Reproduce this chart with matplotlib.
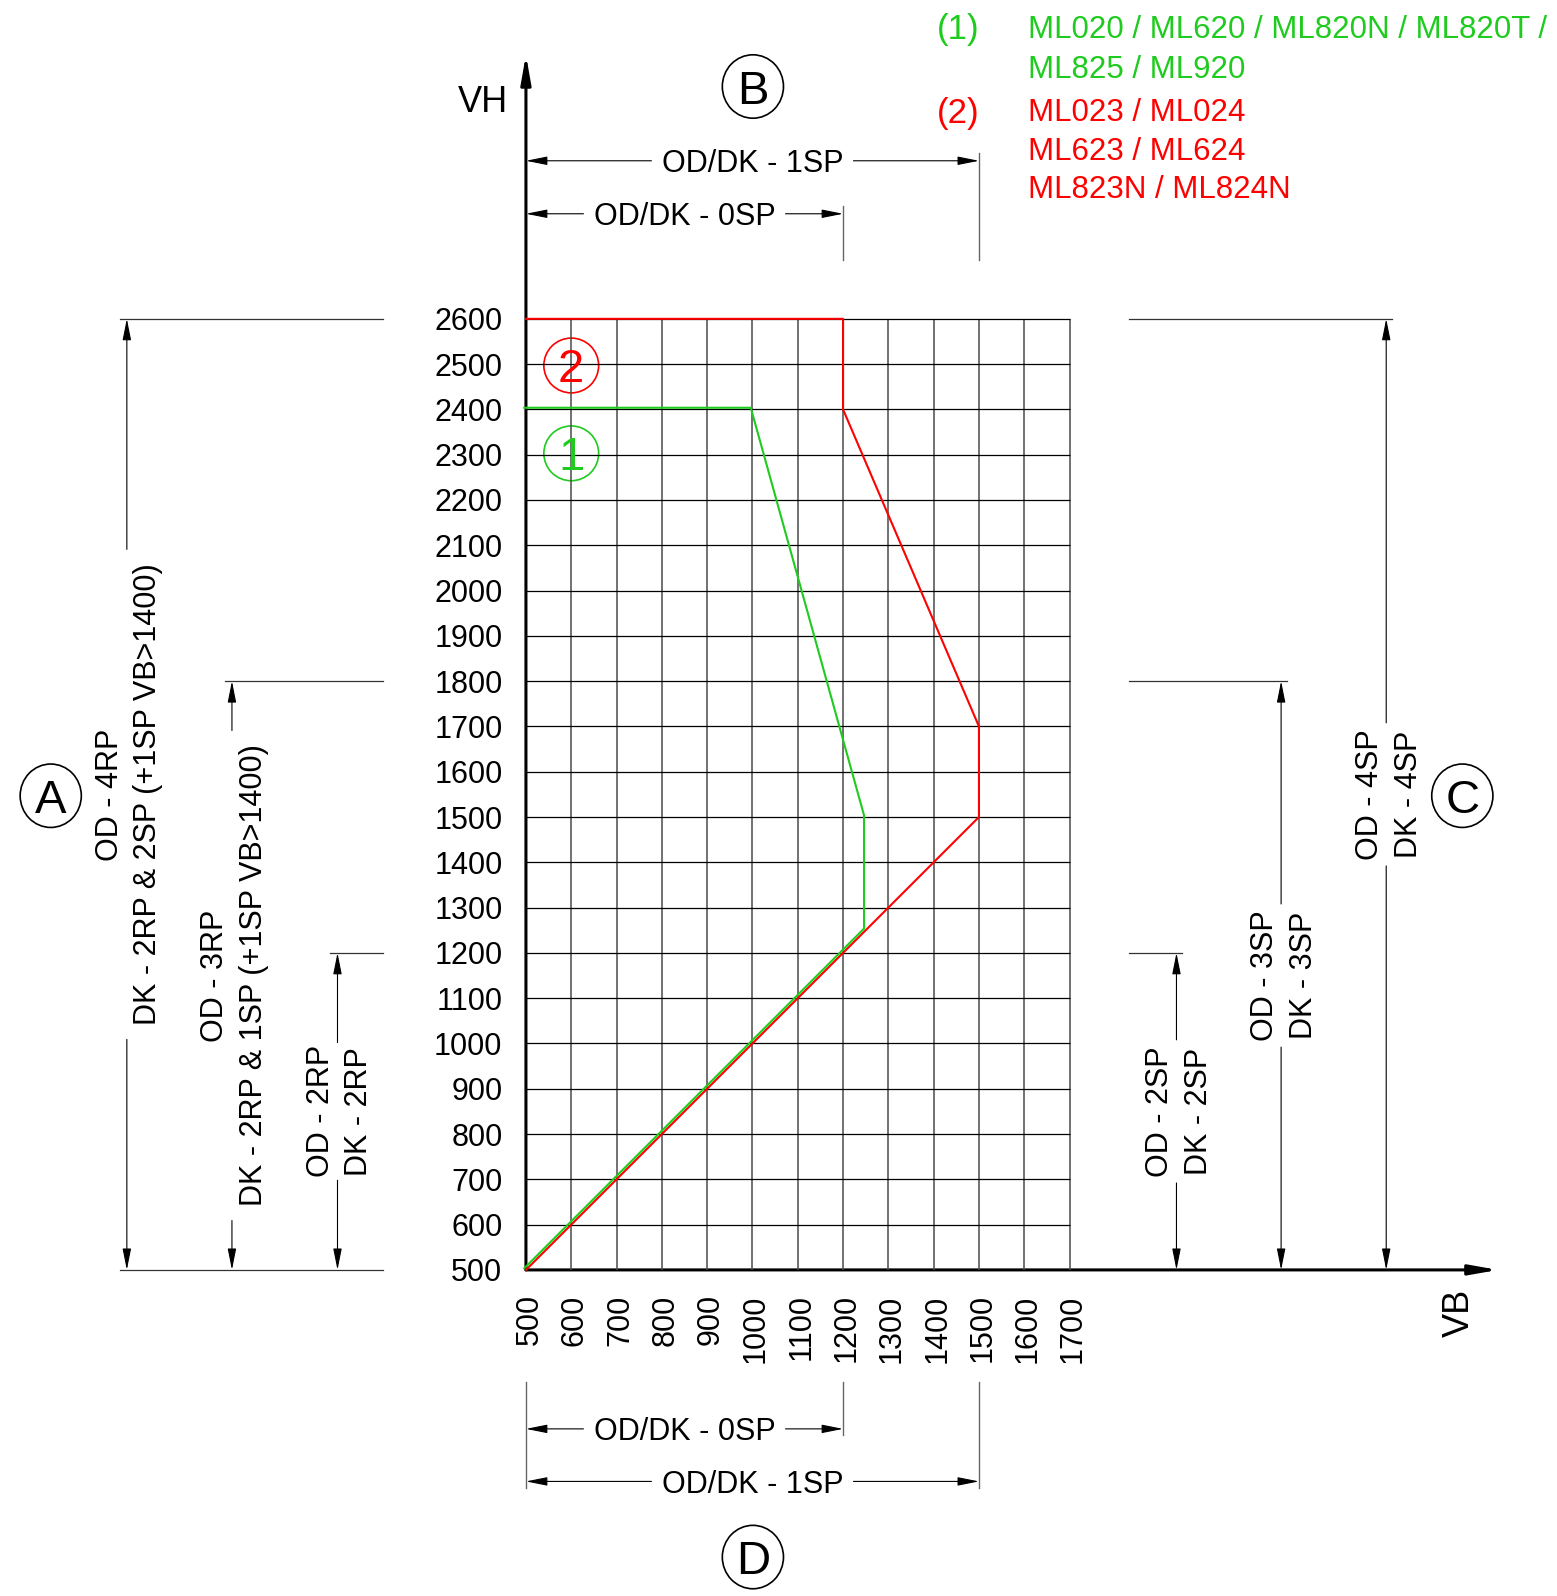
import matplotlib.pyplot as plt
import matplotlib.transforms as mtransforms
from matplotlib.patches import Ellipse, FancyArrowPatch, ArrowStyle

plt.rcParams['font.family'] = ['Liberation Sans', 'DejaVu Sans']

# --- data -------------------------------------------------------------
vb_ticks = list(range(500, 1800, 100))
vh_ticks = list(range(500, 2700, 100))

green_vb = [500, 1250, 1250, 1000, 500]
green_vh = [500, 1250, 1500, 2400, 2400]
red_vb = [500, 1500, 1500, 1200, 1200, 500]
red_vh = [500, 1500, 1700, 2400, 2600, 2600]

# top (B) / bottom (D) dimensions: VB end and label
hdim_ends = [1500, 1200]
hdim_labels = ['OD/DK - 1SP', 'OD/DK - 0SP']

# left (A) dimensions: VH top and two-line label
left_tops = [2600, 1800, 1200]
left_labels = [('OD - 4RP', 'DK - 2RP & 2SP (+1SP VB>1400)'),
               ('OD - 3RP', 'DK - 2RP & 1SP (+1SP VB>1400)'),
               ('OD - 2RP', 'DK - 2RP')]

# right (C) dimensions
right_tops = [1200, 1800, 2600]
right_labels = [('OD - 2SP', 'DK - 2SP'),
                ('OD - 3SP', 'DK - 3SP'),
                ('OD - 4SP', 'DK - 4SP')]

legend_green = ['ML020 / ML620 / ML820N / ML820T /', 'ML825 / ML920']
legend_red = ['ML023 / ML024', 'ML623 / ML624', 'ML823N / ML824N']

GREEN = '#1ecb1e'
RED = '#ff0000'
FS = 22

fig = plt.figure(figsize=(15.57, 15.96), dpi=100)
ax = fig.add_axes([0, 0, 1, 1])
ax.set_xlim(-661, 2776)
ax.set_ylim(-220, 3304)
ax.axis('off')

dim_head = ArrowStyle('-|>', head_length=13, head_width=2.6)


def arrow(p0, p1, style=dim_head, lw=0.8, color='black'):
    ax.add_patch(FancyArrowPatch(p0, p1, arrowstyle=style, mutation_scale=1,
                                 lw=lw, color=color, shrinkA=0, shrinkB=0))


def hdim(x0, x1, y, label, half=223):
    c = (x0 + x1) / 2
    arrow((c - half, y), (x0, y))
    arrow((c + half, y), (x1, y))
    ax.text(c, y, label, ha='center', va='center_baseline', fontsize=FS)


def vdim(x, y0, y1, labels, half, off=(-45, 40)):
    c = (y0 + y1) / 2
    arrow((x, c - half), (x, y0))
    arrow((x, c + half), (x, y1))
    for t, dx in zip(labels, off):
        ax.text(x + dx, c, t, rotation=90, rotation_mode='anchor',
                ha='center', va='center_baseline', fontsize=FS)


def circled(x, y, s, color='black', w=135, h=140, fs=34):
    ax.add_patch(Ellipse((x, y), w, h, fill=False, ec=color, lw=1.2))
    ax.text(x, y, s, ha='center', va='center_baseline', fontsize=fs, color=color)


# grid
ax.vlines(vb_ticks[1:], 500, 2600, color='#4a4a4a', lw=1.1)
ax.hlines(vh_ticks[1:], 500, 1700, color='black', lw=0.9)

# axes with arrows
axis_head = ArrowStyle('-|>', head_length=17, head_width=3)
arrow((500, 500), (500, 3183), style=axis_head, lw=2.2)
arrow((500, 500), (2646, 500), style=axis_head, lw=2.2)

# curves
ax.plot(red_vb, red_vh, color=RED, lw=1.5)
shift = mtransforms.offset_copy(ax.transData, fig=fig, x=-1.2, y=1.2, units='points')
ax.plot(green_vb, green_vh, color=GREEN, lw=1.5, transform=shift)

# tick labels
for v in vh_ticks:
    ax.text(448, v, str(v), ha='right', va='center_baseline', fontsize=FS)
for v in vb_ticks:
    ax.text(v, 446, str(v), rotation=90, rotation_mode='anchor',
            ha='right', va='center_baseline', fontsize=FS)

ax.text(405, 3086, 'VH', ha='center', va='center_baseline', fontsize=26)
ax.text(2551, 406, 'VB', rotation=90, rotation_mode='anchor',
        ha='center', va='center_baseline', fontsize=26)

# top dimensions (B)
top_y = [2949, 2832]
for end, lab, y in zip(hdim_ends, hdim_labels, top_y):
    hdim(500, end, y, lab)
    ax.plot([end, end], [2731, y + 17], color='#666666', lw=1.0)

# bottom dimensions (D)
bot_y = [33, 149]
for end, lab, y in zip(hdim_ends, hdim_labels, bot_y):
    hdim(500, end, y, lab)
    ax.plot([end, end], [253, y - 14], color='#666666', lw=1.0)
ax.plot([500, 500], [253, 19], color='#666666', lw=1.0)

# left dimensions (A)
left_x = [-381, -149, 84]
left_half = [541, 541, 152]
for x, top, labs, half in zip(left_x, left_tops, left_labels, left_half):
    vdim(x, 500, top, labs, half)
    ax.plot([x - 16, 185], [top, top], color='#333333', lw=0.9)
ax.plot([-397, 185], [500, 500], color='#333333', lw=0.9)

# right dimensions (C)
right_x = [1936, 2167, 2399]
for x, top, labs in zip(right_x, right_tops, right_labels):
    vdim(x, 500, top, labs, 158, off=(-43, 42))
    ax.plot([1832, x + 13], [top, top], color='#333333', lw=0.9)

# reference circles
circled(-549, 1547, 'A')
circled(1001, 3113, 'B')
circled(2567, 1547, 'C')
circled(1001, -134, 'D')
circled(600, 2497, '2', color=RED, w=121, h=121, fs=34)
circled(600, 2303, '1', color=GREEN, w=121, h=121, fs=34)

# legend text
ax.text(1408, 3246, '(1)', ha='left', va='center_baseline', fontsize=25, color=GREEN)
for i, t in enumerate(legend_green):
    ax.text(1608, 3246 - i * 88, t, ha='left', va='center_baseline', fontsize=22.5, color=GREEN)
ax.text(1408, 3062, '(2)', ha='left', va='center_baseline', fontsize=25, color=RED)
for i, t in enumerate(legend_red):
    ax.text(1608, 3062 - i * 85, t, ha='left', va='center_baseline', fontsize=22.5, color=RED)

fig.savefig('out.png', dpi=100)
plt.close(fig)
